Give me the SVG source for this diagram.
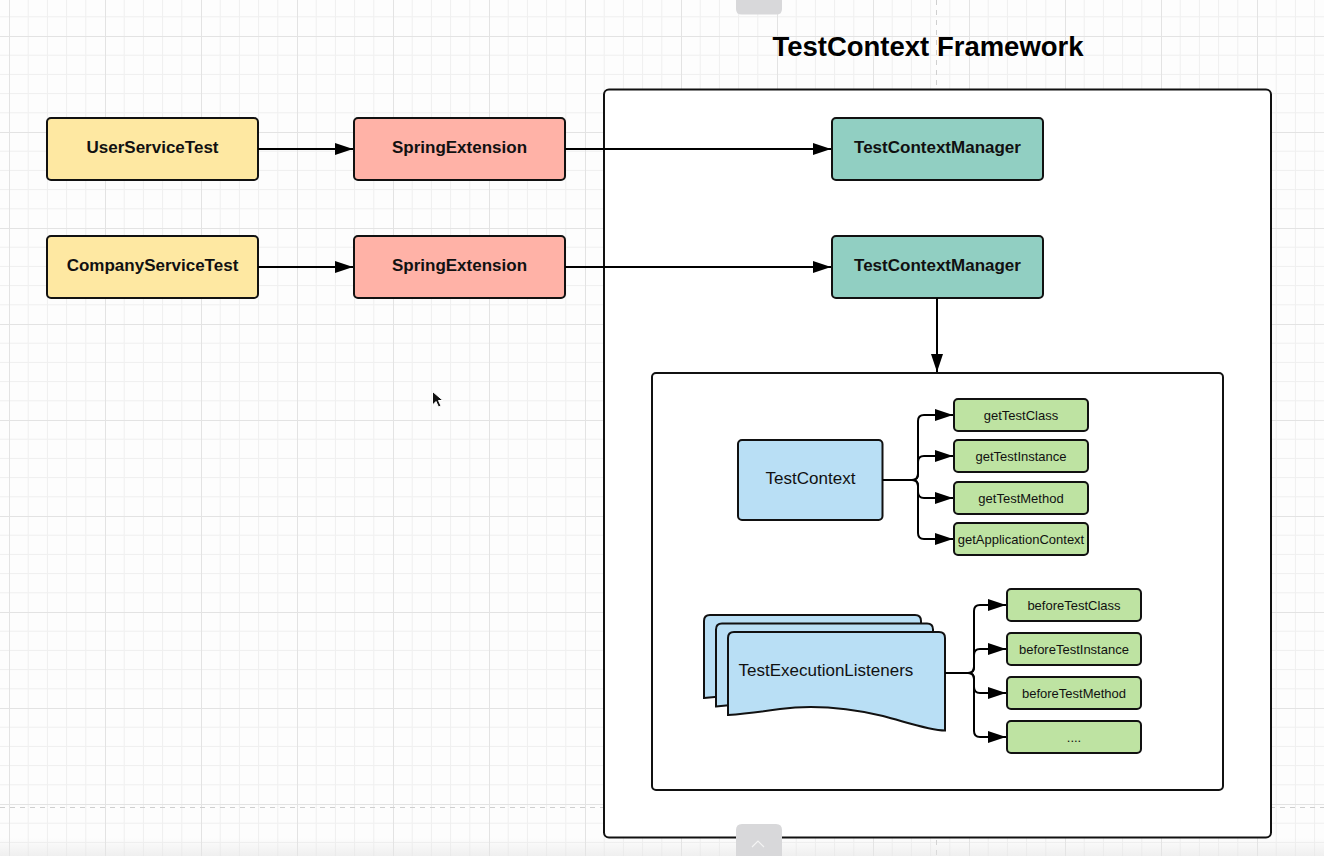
<svg xmlns="http://www.w3.org/2000/svg" width="1324" height="856" viewBox="0 0 1324 856">
  <defs>
    <pattern id="grid" x="9" y="36" width="96" height="96" patternUnits="userSpaceOnUse">
      <path d="M19.2,0V96M38.4,0V96M57.6,0V96M76.8,0V96M0,19.2H96M0,38.4H96M0,57.6H96M0,76.8H96" stroke="#efefef" stroke-width="1" fill="none"/>
      <path d="M0.5,0V96M0,0.5H96" stroke="#e3e3e3" stroke-width="1" fill="none"/>
    </pattern>
    <marker id="arrow" viewBox="0 0 18 12" refX="18" refY="6" markerWidth="18" markerHeight="12" markerUnits="userSpaceOnUse" orient="auto">
      <path d="M0,0 L18,6 L0,12 Z" fill="#000"/>
    </marker>
    <linearGradient id="haze" x1="0" y1="0" x2="0" y2="1">
      <stop offset="0" stop-color="#e6e6e6" stop-opacity="0"/>
      <stop offset="1" stop-color="#e6e6e6" stop-opacity="0.6"/>
    </linearGradient>
  </defs>
  <style>
    .box { stroke: #111; stroke-width: 2; }
    .yellow { fill: #fee8a2; }
    .red { fill: #ffb2a7; }
    .teal { fill: #91cfc2; }
    .blue { fill: #b9dff5; }
    .green { fill: #bee3a2; }
    .frame { fill: #fff; stroke: #111; stroke-width: 2; }
    .bold { font-family: "Liberation Sans", Arial, sans-serif; font-weight: bold; font-size: 17px; fill: #111; text-anchor: middle; }
    .big { font-family: "Liberation Sans", Arial, sans-serif; font-size: 17px; fill: #111; }
    .small { font-family: "Liberation Sans", Arial, sans-serif; font-size: 13px; fill: #111; text-anchor: middle; }
    .title { font-family: "Liberation Sans", Arial, sans-serif; font-weight: bold; font-size: 27.5px; fill: #000; text-anchor: middle; }
    .conn { fill: none; stroke: #000; stroke-width: 2; }
    .guide { stroke: #cfcfcf; stroke-width: 1; stroke-dasharray: 5 5; fill: none; }
  </style>

  <!-- canvas -->
  <rect width="1324" height="856" fill="#fdfdfd"/>
  <rect width="1324" height="856" fill="url(#grid)"/>
  <path class="guide" d="M0,807.5H1324M936.5,0V856"/>

  <!-- page tab (top) -->
  <path d="M736,0H782V9Q782,14.5 776.5,14.5H741.5Q736,14.5 736,9Z" fill="#d8d8da"/>

  <!-- outer frame -->
  <g id="framework">
    <rect class="frame" x="604" y="89.5" width="667" height="748" rx="5"/>
    <text class="title" x="928" y="56">TestContext Framework</text>
  </g>

  <!-- inner container -->
  <g id="context-area">
    <rect class="frame" x="652" y="373" width="571" height="417" rx="4"/>
  </g>

  <g id="user-service-test">
    <rect class="box yellow" x="47" y="118" width="211" height="62" rx="4"/>
    <text class="bold" x="152.5" y="153">UserServiceTest</text>
  </g>
  <g id="spring-extension-1">
    <rect class="box red" x="354" y="118" width="211" height="62" rx="4"/>
    <text class="bold" x="459.5" y="153">SpringExtension</text>
  </g>
  <g id="test-context-manager-1">
    <rect class="box teal" x="832" y="118" width="211" height="62" rx="4"/>
    <text class="bold" x="937.5" y="153">TestContextManager</text>
  </g>

  <g id="company-service-test">
    <rect class="box yellow" x="47" y="236" width="211" height="62" rx="4"/>
    <text class="bold" x="152.5" y="271">CompanyServiceTest</text>
  </g>
  <g id="spring-extension-2">
    <rect class="box red" x="354" y="236" width="211" height="62" rx="4"/>
    <text class="bold" x="459.5" y="271">SpringExtension</text>
  </g>
  <g id="test-context-manager-2">
    <rect class="box teal" x="832" y="236" width="211" height="62" rx="4"/>
    <text class="bold" x="937.5" y="271">TestContextManager</text>
  </g>

  <g id="test-context">
    <rect class="box blue" x="738" y="440" width="144.5" height="80" rx="4"/>
    <text class="big" x="810.5" y="483.5" text-anchor="middle">TestContext</text>
  </g>

  <g id="get-test-class">
    <rect class="box green" x="954" y="399" width="134" height="32" rx="4"/>
    <text class="small" x="1021" y="419.5">getTestClass</text>
  </g>
  <g id="get-test-instance">
    <rect class="box green" x="954" y="440" width="134" height="32" rx="4"/>
    <text class="small" x="1021" y="460.5">getTestInstance</text>
  </g>
  <g id="get-test-method">
    <rect class="box green" x="954" y="482" width="134" height="32" rx="4"/>
    <text class="small" x="1021" y="502.5">getTestMethod</text>
  </g>
  <g id="get-application-context">
    <rect class="box green" x="954" y="523" width="134" height="32" rx="4"/>
    <text class="small" x="1021" y="543.5">getApplicationContext</text>
  </g>

  <!-- stacked document shape -->
  <g id="test-execution-listeners">
    <path class="box blue" d="M704,621Q704,615 710,615H915Q921,615 921,621V713.5C906,713.5 885,706 859,699C829,692 795,687 756,692C735,695 718,697 704,698Z"/>
    <path class="box blue" d="M716,629.5Q716,623.5 722,623.5H927Q933,623.5 933,629.5V722C918,722 897,714.5 871,707.5C841,700.5 807,695.5 768,700.5C747,703.5 730,705.5 716,706.5Z"/>
    <path class="box blue" d="M728,638Q728,632 734,632H939Q945,632 945,638V730.5C930,730.5 909,723 883,716C853,709 819,704 780,709C759,712 742,714 728,715Z"/>
    <text class="big" x="738.5" y="676">TestExecutionListeners</text>
  </g>

  <g id="before-test-class">
    <rect class="box green" x="1007" y="589" width="134" height="32" rx="4"/>
    <text class="small" x="1074" y="609.5">beforeTestClass</text>
  </g>
  <g id="before-test-instance">
    <rect class="box green" x="1007" y="633" width="134" height="32" rx="4"/>
    <text class="small" x="1074" y="653.5">beforeTestInstance</text>
  </g>
  <g id="before-test-method">
    <rect class="box green" x="1007" y="677" width="134" height="32" rx="4"/>
    <text class="small" x="1074" y="697.5">beforeTestMethod</text>
  </g>
  <g id="more-callbacks">
    <rect class="box green" x="1007" y="721" width="134" height="32" rx="4"/>
    <text class="small" x="1074" y="741.5">....</text>
  </g>

  <g id="connectors">
    <path class="conn" d="M258,149H353" marker-end="url(#arrow)"/>
    <path class="conn" d="M565,149H831" marker-end="url(#arrow)"/>
    <path class="conn" d="M258,267H353" marker-end="url(#arrow)"/>
    <path class="conn" d="M565,267H831" marker-end="url(#arrow)"/>
    <path class="conn" d="M937,298V372" marker-end="url(#arrow)"/>

    <path class="conn" d="M882.5,480H912Q918,480 918,474V421Q918,415 924,415H953" marker-end="url(#arrow)"/>
    <path class="conn" d="M912,480Q918,480 918,474V462Q918,456 924,456H953" marker-end="url(#arrow)"/>
    <path class="conn" d="M912,480Q918,480 918,486V492Q918,498 924,498H953" marker-end="url(#arrow)"/>
    <path class="conn" d="M912,480Q918,480 918,486V533Q918,539 924,539H953" marker-end="url(#arrow)"/>

    <path class="conn" d="M945,673H968Q974,673 974,667V611Q974,605 980,605H1006" marker-end="url(#arrow)"/>
    <path class="conn" d="M968,673Q974,673 974,667V655Q974,649 980,649H1006" marker-end="url(#arrow)"/>
    <path class="conn" d="M968,673Q974,673 974,679V687Q974,693 980,693H1006" marker-end="url(#arrow)"/>
    <path class="conn" d="M968,673Q974,673 974,679V731Q974,737 980,737H1006" marker-end="url(#arrow)"/>
  </g>

  <!-- bottom page tab, haze and pointer -->
  <rect x="0" y="838" width="1324" height="18" fill="url(#haze)"/>
  <path d="M736,856V830Q736,824 742,824H776Q782,824 782,830V856Z" fill="#d8d8da"/>
  <path d="M752,847L758,841L764,847" fill="none" stroke="#f4f4f4" stroke-width="1.2"/>
  <path d="M432.5,391.5V405L436,401.5L438.5,407L441,406L438.5,400.5H443Z" fill="#111" stroke="#fff" stroke-width="1"/>
</svg>
